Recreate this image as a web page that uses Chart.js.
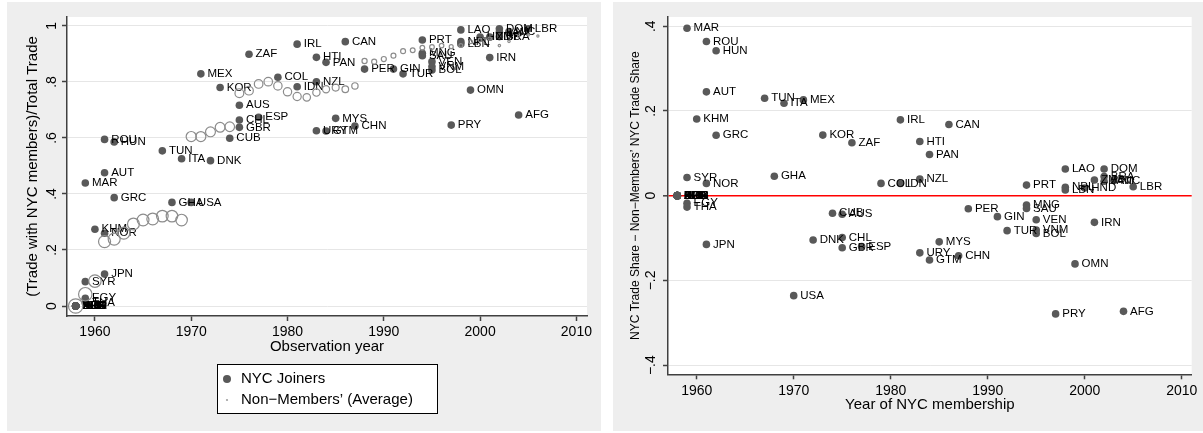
<!DOCTYPE html>
<html>
<head>
<meta charset="utf-8">
<script src="https://cdn.jsdelivr.net/npm/chart.js@4.4.1/dist/chart.umd.min.js"></script>
<style>
  body { margin: 0; background: #fff; width: 1203px; height: 433px; overflow: hidden; }
  canvas { position: absolute; top: 2px; }
  #left { left: 7px; }
  #right { left: 613px; }
</style>
</head>
<body>
<canvas id="left" width="594" height="429"></canvas>
<canvas id="right" width="590" height="429"></canvas>
<script>
// NYC joiners (ISO code + year they joined)
const iso = ['ARG', 'BEL', 'BGR', 'BLR', 'CZE', 'DEU', 'ECU', 'FRA', 'IND', 'ISR', 'NLD', 'PHL', 'POL', 'RUS',
  'MAR', 'SYR', 'EGY', 'THA', 'KHM', 'ROU', 'AUT', 'NOR', 'JPN', 'HUN', 'GRC', 'TUN', 'GHA', 'ITA', 'USA',
  'MEX', 'DNK', 'KOR', 'CUB', 'AUS', 'CHL', 'GBR', 'ZAF', 'ESP', 'COL', 'IRL', 'IDN', 'HTI', 'NZL', 'URY',
  'PAN', 'GTM', 'MYS', 'CAN', 'CHN', 'PER', 'GIN', 'TUR', 'PRT', 'MNG', 'SAU', 'VEN', 'VNM', 'BOL', 'PRY',
  'LAO', 'NPL', 'LBN', 'OMN', 'HND', 'IRN', 'ZMB', 'DOM', 'BRA', 'JAM', 'NIC', 'AFG', 'LBR'];
const joinYear = [1958, 1958, 1958, 1958, 1958, 1958, 1958, 1958, 1958, 1958, 1958, 1958, 1958, 1958,
  1959, 1959, 1959, 1959, 1960, 1961, 1961, 1961, 1961, 1962, 1962, 1967, 1968, 1969, 1970,
  1971, 1972, 1973, 1974, 1975, 1975, 1975, 1976, 1977, 1979, 1981, 1981, 1983, 1983, 1983,
  1984, 1984, 1985, 1986, 1987, 1988, 1991, 1992, 1994, 1994, 1994, 1995, 1995, 1995, 1997,
  1998, 1998, 1998, 1999, 2000, 2001, 2001, 2002, 2002, 2002, 2003, 2004, 2005];
// (Trade with NYC members)/Total Trade, observed in the joining year
const nycShare = [0, 0, 0, 0, 0, 0, 0, 0, 0, 0, 0, 0, 0, 0,
  .439, .087, .0275, .012, .274, .595, .476, .26, .114, .586, .387, .554, .370, .526, .370,
  .829, .519, .78, .599, .717, .664, .638, .899, .674, .817, .935, .783, .888, .801, .626,
  .870, .625, .67, .944, .643, .846, .846, .829, .95, .9025, .894, .8725, .855, .843, .646,
  .986, .944, .936, .771, .96, .887, .96, .99, .962, .977, .98, .682, .99];
// NYC trade share minus non-members' NYC trade share
const shareGap = [0, 0, 0, 0, 0, 0, 0, 0, 0, 0, 0, 0, 0, 0,
  .395, .043, -.018, -.027, .181, .364, .245, .029, -.115, .342, .1425, .230, .046, .218, -.236,
  .226, -.1045, .143, -.0415, -.044, -.099, -.123, .125, -.12, .029, .179, .029, .128, .039, -.135,
  .097, -.152, -.109, .168, -.142, -.031, -.0495, -.0826, .025, -.022, -.030, -.057, -.081, -.089, -.279,
  .063, .0198, .0135, -.161, .018, -.063, .037, .063, .045, .034, .036, -.273, .021];

// non-members' average share, by year, with the weight used for marker size
const avgYear = [1958, 1959, 1960, 1961, 1962, 1963, 1964, 1965, 1966, 1967, 1968, 1969,
  1970, 1971, 1972, 1973, 1974, 1975, 1976, 1977, 1978, 1979, 1980, 1981, 1982, 1983,
  1984, 1985, 1986, 1987, 1988, 1989, 1990, 1991, 1992, 1993, 1994, 1995, 1996, 1997,
  1998, 1999, 2000, 2001, 2002, 2003, 2004, 2005, 2006];
const avgShare = [0, .042, .089, .23, .239, .26, .293, .307, .311, .321, .321, .307,
  .605, .605, .622, .638, .64, .76, .769, .793, .801, .786, .765, .748, .745, .762,
  .774, .78, .774, .786, .875, .8725, .882, .894, .91, .913, .922, .925, .93, .926,
  .93, .944, .95, .955, .93, .945, .963, .968, .964];
const avgWeight = [171, 150, 128, 120, 119, 118, 116, 115, 114, 112, 111, 110,
  85, 83, 81, 79, 77, 64, 62, 61, 60, 58, 57, 55, 46, 44, 42, 40, 36, 33,
  22, 21, 21, 20, 20, 19, 18, 18, 17, 13, 12, 12, 11, 10, 5, 5, 4, 4, 4];

const yearTicks = [1960, 1970, 1980, 1990, 2000, 2010];
const shareTicks = [0, .2, .4, .6, .8, 1];
const shareTickLabels = ['0', '.2', '.4', '.6', '.8', '1'];
const gapTicks = [-.4, -.2, 0, .2, .4];
const gapTickLabels = ['\u2212.4', '\u2212.2', '0', '.2', '.4'];

const FONT = "'Liberation Sans', Arial, sans-serif";
const DARK = '#595959';
const AXIS = '#404040';
const GRID = '#e6e6e6';

// gray panel, white plot region
const panelBg = {
  id: 'panelBg',
  beforeDraw(chart) {
    const { ctx, chartArea: a } = chart;
    ctx.save();
    ctx.fillStyle = '#eeeeee';
    ctx.fillRect(0, 0, chart.width, chart.height);
    ctx.fillStyle = '#ffffff';
    ctx.fillRect(a.left, a.top, a.right - a.left, a.bottom - a.top);
    ctx.restore();
  }
};

// marker labels at 3 o'clock, drawn right after their own dataset
const markerLabels = {
  id: 'markerLabels',
  afterDatasetDraw(chart, args) {
    const ds = chart.data.datasets[args.index];
    if (!ds.codes) return;
    const ctx = chart.ctx;
    ctx.save();
    ctx.font = '11.5px ' + FONT;
    ctx.fillStyle = '#000';
    ctx.textBaseline = 'middle';
    ctx.textAlign = 'left';
    args.meta.data.forEach((pt, i) => {
      ctx.fillText(ds.codes[i], pt.x + 6.6, pt.y);
    });
    ctx.restore();
  }
};

// boxed one-column legend under the plot (Stata style)
const boxLegend = {
  id: 'boxLegend',
  afterDraw(chart) {
    const { ctx, chartArea: a } = chart;
    const w = 220, h = 49;
    const left = (a.left + a.right) / 2 - w / 2;
    const top = a.bottom + 48;
    ctx.save();
    ctx.fillStyle = '#fff';
    ctx.fillRect(left, top, w, h);
    ctx.strokeStyle = '#000';
    ctx.lineWidth = 1;
    ctx.strokeRect(left + 0.5, top + 0.5, w, h);
    ctx.font = '15px ' + FONT;
    ctx.textBaseline = 'middle';
    ctx.fillStyle = '#000';
    chart.data.datasets.forEach((ds, i) => {
      const cy = top + 15 + i * 21;
      ctx.beginPath();
      ctx.arc(left + 10, cy, ds.legendRadius, 0, Math.PI * 2);
      ctx.fillStyle = ds.legendColor;
      ctx.fill();
      ctx.fillStyle = '#000';
      ctx.fillText(ds.label, left + 24, cy);
    });
    ctx.restore();
  }
};

function xScale(min, max, title) {
  return {
    type: 'linear',
    position: 'bottom',
    min: min,
    max: max,
    afterBuildTicks: s => { s.ticks = yearTicks.map(v => ({ value: v })); },
    afterFit: s => { s.height = 40; },
    ticks: { font: { family: FONT, size: 14 }, color: '#000', padding: 3, callback: v => String(v) },
    grid: { drawOnChartArea: false, drawTicks: true, tickLength: 5, tickColor: AXIS, tickWidth: 1.5 },
    border: { display: true, color: AXIS, width: 1.5 },
    title: { display: true, text: title, color: '#000', font: { family: FONT, size: 15 }, padding: { top: 0, bottom: 0 } }
  };
}

function yScale(min, max, ticks, labels, width, pad, title, titleSize, titlePad, gridColor, gridWidth) {
  return {
    type: 'linear',
    min: min,
    max: max,
    afterBuildTicks: s => { s.ticks = ticks.map(v => ({ value: v })); },
    afterFit: s => { s.width = width; },
    ticks: {
      font: { family: FONT, size: 14 }, color: '#000', padding: pad,
      minRotation: 90, maxRotation: 90, crossAlign: 'center',
      callback: (v, i) => labels[i]
    },
    grid: { color: gridColor, lineWidth: gridWidth, drawTicks: true, tickLength: 5, tickColor: AXIS, tickWidth: 1.5 },
    border: { display: true, color: AXIS, width: 1.5 },
    title: { display: true, text: title, color: '#000', font: { family: FONT, size: titleSize }, padding: { top: titlePad, bottom: 0 } }
  };
}

const commonOpts = {
  responsive: false,
  animation: false,
  events: [],
  plugins: { legend: { display: false }, tooltip: { enabled: false } }
};

// left panel: share of trade with NYC members
new Chart(document.getElementById('left'), {
  type: 'scatter',
  data: {
    datasets: [
      {
        label: 'NYC Joiners',
        data: joinYear.map((y, i) => ({ x: y, y: nycShare[i] })),
        codes: iso,
        pointRadius: 3.8,
        pointBackgroundColor: DARK,
        pointBorderWidth: 0,
        legendColor: DARK,
        legendRadius: 4,
        order: 2
      },
      {
        label: 'Non\u2212Members\u2019 (Average)',
        data: avgYear.map((y, i) => ({ x: y, y: avgShare[i] })),
        pointRadius: ctx => 0.55 * Math.sqrt(avgWeight[ctx.dataIndex]),
        pointBackgroundColor: 'rgba(0,0,0,0)',
        pointBorderColor: '#8c8c8c',
        pointBorderWidth: 1.2,
        legendColor: '#a0a0a0',
        legendRadius: 1.1,
        order: 1
      }
    ]
  },
  options: Object.assign({}, commonOpts, {
    layout: { padding: { top: 15, right: 14, left: 0, bottom: 75 } },
    scales: {
      x: xScale(1957.1, 2011.1, 'Observation year'),
      y: yScale(-0.0357, 1.032, shareTicks, shareTickLabels, 60, 4,
        '(Trade with NYC members)/Total Trade', 15, 17, GRID, 1)
    }
  }),
  plugins: [panelBg, markerLabels, boxLegend]
});

// right panel: difference to non-members
new Chart(document.getElementById('right'), {
  type: 'scatter',
  data: {
    datasets: [{
      label: 'NYC Joiners',
      data: joinYear.map((y, i) => ({ x: y, y: shareGap[i] })),
      codes: iso,
      pointRadius: 3.8,
      pointBackgroundColor: DARK,
      pointBorderWidth: 0
    }]
  },
  options: Object.assign({}, commonOpts, {
    layout: { padding: { top: 15, right: 11.3, left: 0, bottom: 16.7 } },
    scales: {
      x: xScale(1957.04, 2011.03, 'Year of NYC membership'),
      y: yScale(-0.4216, 0.4217, gapTicks, gapTickLabels, 55, 2,
        'NYC Trade Share \u2212 Non\u2212Members\u2019 NYC Trade Share', 12, 15,
        ctx => (ctx.tick && ctx.tick.value === 0 ? '#ff0000' : GRID),
        ctx => (ctx.tick && ctx.tick.value === 0 ? 1.6 : 1))
    }
  }),
  plugins: [panelBg, markerLabels]
});
</script>
</body>
</html>
